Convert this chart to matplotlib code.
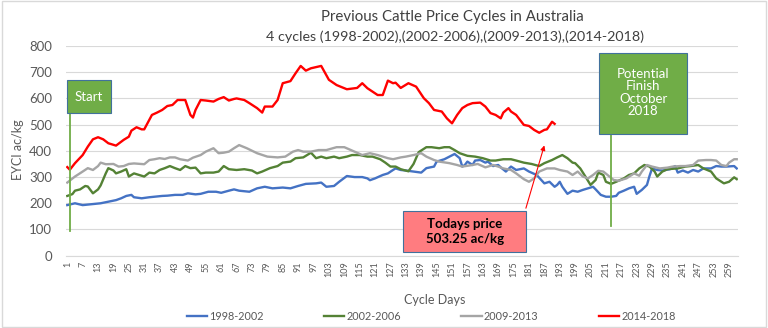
import numpy as np
import matplotlib.pyplot as plt
from matplotlib.patches import Rectangle

plt.rcParams['font.family'] = ['Lato', 'DejaVu Sans']

# values (cycle day -> EYCI ac/kg)
days_9802 = [1, 4, 7, 11, 14, 17, 20, 22, 24, 26, 27, 30, 33, 35, 38, 40, 43, 46, 48, 51, 53, 56, 59, 61, 64, 66, 68,
             72, 75, 78, 81, 85, 88, 91, 94, 98, 100, 102, 105, 107, 110, 113, 116, 118, 119, 121, 124, 126, 128, 129,
             131, 133, 136, 139, 141, 144, 145, 148, 150, 152, 154, 155, 156, 157, 159, 160, 162, 164, 165, 167, 169,
             170, 172, 174, 176, 179, 181, 184, 187, 189, 191, 192, 193, 194, 196, 198, 200, 202, 204, 206, 207, 209,
             211, 213, 215, 216, 218, 220, 222, 223, 225, 227, 228, 229, 231, 233, 236, 238, 239, 241, 243, 245, 247,
             249, 252, 254, 256, 258, 261, 262]
vals_9802 = [193, 200, 193, 197, 200, 206, 212, 219, 228, 232, 223, 219, 223, 225, 228, 229, 232, 232, 238, 234, 236,
             244, 244, 240, 248, 253, 248, 244, 257, 263, 257, 260, 257, 266, 274, 276, 279, 263, 266, 282, 304, 300,
             300, 295, 288, 295, 308, 314, 327, 333, 327, 325, 321, 317, 334, 340, 359, 368, 378, 388, 372, 340, 346,
             359, 346, 363, 365, 355, 359, 342, 346, 337, 321, 340, 327, 333, 321, 308, 276, 282, 263, 270, 282, 263,
             236, 248, 244, 251, 257, 263, 253, 232, 225, 225, 228, 240, 248, 257, 263, 236, 251, 270, 304, 333, 327,
             325, 330, 342, 317, 325, 317, 327, 321, 333, 333, 342, 340, 340, 342, 333]

days_0206 = [1, 3, 4, 6, 8, 9, 11, 13, 14, 16, 17, 19, 20, 22, 24, 25, 27, 29, 31, 33, 35, 37, 39, 41, 43, 45, 47, 49,
             51, 53, 55, 58, 60, 62, 64, 67, 70, 73, 75, 77, 80, 83, 85, 88, 90, 93, 96, 98, 100, 102, 105, 107, 110,
             112, 115, 118, 120, 123, 125, 127, 129, 131, 134, 136, 138, 141, 143, 146, 148, 150, 152, 154, 157, 160,
             163, 166, 168, 171, 174, 176, 179, 182, 185, 187, 190, 192, 194, 196, 198, 199, 201, 203, 205, 207, 208,
             210, 211, 213, 215, 218, 220, 222, 224, 226, 228, 230, 231, 233, 235, 239, 242, 244, 247, 249, 252, 254,
             257, 259, 261, 262]
vals_0206 = [228, 235, 248, 253, 266, 264, 238, 253, 268, 314, 334, 325, 314, 321, 330, 302, 314, 308, 302, 317, 314,
             327, 334, 342, 334, 327, 342, 334, 336, 314, 317, 317, 321, 342, 330, 327, 330, 325, 314, 321, 334, 342,
             355, 359, 372, 375, 393, 372, 378, 372, 378, 372, 378, 384, 384, 378, 378, 368, 355, 340, 340, 330, 322,
             350, 395, 414, 414, 410, 414, 414, 403, 391, 381, 378, 372, 363, 363, 368, 368, 363, 355, 350, 342, 353,
             365, 375, 384, 372, 355, 353, 333, 302, 270, 289, 317, 308, 282, 274, 282, 295, 308, 314, 333, 346, 340,
             321, 302, 321, 330, 333, 340, 342, 346, 333, 321, 295, 276, 282, 299, 292]

days_0913 = [1, 4, 7, 9, 11, 13, 14, 16, 19, 21, 23, 25, 27, 31, 33, 35, 37, 39, 41, 43, 45, 48, 50, 53, 55, 58, 60,
             62, 64, 66, 68, 71, 75, 79, 83, 86, 89, 91, 93, 96, 99, 102, 106, 109, 113, 116, 119, 122, 126, 128, 131,
             133, 136, 139, 141, 144, 146, 150, 153, 155, 159, 161, 164, 167, 169, 171, 174, 176, 179, 181, 183, 185,
             188, 191, 193, 196, 198, 200, 202, 204, 206, 208, 210, 212, 214, 216, 219, 222, 224, 225, 227, 229, 232,
             235, 237, 240, 242, 245, 247, 250, 252, 254, 256, 258, 259, 261, 262]
vals_0913 = [279, 302, 321, 334, 327, 342, 355, 349, 350, 340, 342, 350, 352, 349, 365, 368, 372, 369, 375, 375, 368,
             363, 374, 384, 397, 410, 391, 393, 397, 410, 422, 410, 391, 378, 375, 378, 397, 403, 397, 397, 403, 403,
             414, 414, 397, 384, 391, 384, 372, 368, 375, 378, 384, 391, 378, 365, 359, 353, 346, 340, 346, 350, 337,
             346, 340, 333, 327, 314, 292, 282, 295, 321, 333, 333, 327, 321, 308, 321, 302, 295, 308, 324, 321, 305,
             289, 286, 295, 314, 305, 321, 346, 340, 333, 336, 340, 342, 342, 346, 363, 365, 365, 363, 346, 342, 355,
             368, 368]

days_1418 = [1, 2, 4, 7, 9, 11, 13, 15, 17, 20, 23, 25, 26, 28, 30, 31, 34, 36, 38, 40, 42, 44, 47, 49, 50, 51, 53, 55,
             58, 60, 62, 64, 66, 67, 70, 72, 75, 77, 78, 81, 83, 85, 88, 90, 92, 94, 96, 100, 103, 106, 110, 114, 116,
             118, 122, 124, 126, 128, 129, 131, 134, 137, 140, 142, 144, 147, 149, 151, 153, 155, 157, 159, 162, 164,
             166, 168, 170, 171, 173, 174, 176, 179, 181, 183, 185, 187, 188, 190, 191]
vals_1418 = [338, 328, 353, 384, 416, 444, 452, 444, 429, 420, 442, 454, 477, 490, 482, 482, 537, 546, 556, 571, 575,
             594, 594, 537, 527, 556, 594, 592, 588, 598, 605, 592, 598, 600, 594, 582, 563, 546, 569, 569, 594, 658,
             666, 696, 724, 706, 715, 724, 671, 651, 635, 640, 658, 639, 613, 613, 668, 658, 660, 640, 658, 645, 601,
             582, 556, 550, 524, 505, 537, 563, 575, 582, 584, 569, 544, 537, 524, 546, 563, 550, 537, 499, 495, 480,
             469, 480, 482, 511, 503]

labels = ['1998-2002', '2002-2006', '2009-2013', '2014-2018']
colors = ['#4472C4', '#548235', '#A5A5A5', '#FF0000']
all_days = [days_9802, days_0206, days_0913, days_1418]
all_vals = [vals_9802, vals_0206, vals_0913, vals_1418]
n_days = 262

fig = plt.figure(figsize=(7.68, 3.28), dpi=100)
ax = fig.add_axes([66/768, 1-255.7/328, 672/768, 209.7/328])

for d, v, c, lab in zip(all_days, all_vals, colors, labels):
    ax.plot(d, v, color=c, lw=1.7, label=lab, solid_joinstyle='round')

ax.set_xlim(0.5, n_days + 0.5)
ax.set_ylim(0, 800)
ax.set_yticks(range(0, 801, 100))
ax.set_xticks(range(1, n_days, 6))
ax.set_xticklabels([str(i) for i in range(1, n_days, 6)], rotation=90, fontsize=6.5, color='#595959')
ax.tick_params(axis='x', length=0, pad=4)
ax.tick_params(axis='y', length=0, pad=10, labelsize=9.5, labelcolor='#595959')
ax.yaxis.grid(True, color='#D9D9D9', lw=0.8)
ax.set_axisbelow(True)
for s in ['top', 'right', 'left']:
    ax.spines[s].set_visible(False)
ax.spines['bottom'].set_color('#D9D9D9')

# annotations
ax.plot([2, 2], [94, 545], color='#70AD47', lw=1.3, zorder=5)
ax.add_patch(Rectangle((0.9, 545), 17.2, 126, facecolor='#70AD47', edgecolor='#41719C', lw=0.8, zorder=6, clip_on=False))
ax.text(9.5, 607, 'Start', color='white', fontsize=9.5, ha='center', va='center', zorder=7)

ax.plot([213, 213], [115, 464], color='#70AD47', lw=1.3, zorder=5)
ax.add_patch(Rectangle((208.3, 464), 34.3, 311, facecolor='#70AD47', edgecolor='#41719C', lw=0.8, zorder=6, clip_on=False))
ax.text(225.5, 623, 'Potential\nFinish\nOctober\n2018', color='white', fontsize=9.5, ha='center', va='center',
        linespacing=1.05, zorder=7)

ax.add_patch(Rectangle((131.9, 14), 48, 157, facecolor='#FF7C80', edgecolor='#41719C', lw=0.8, zorder=6, clip_on=False))
ax.text(155.9, 92, 'Todays price\n503.25 ac/kg', color='black', fontsize=9.5, fontweight='bold', ha='center',
        va='center', linespacing=1.3, zorder=7)
ax.annotate('', xy=(187.3, 431), xytext=(179.5, 171),
            arrowprops=dict(arrowstyle='-|>', color='#FF0000', lw=0.8, mutation_scale=7), zorder=7)

fig.text(452/768, 1-17/328, 'Previous Cattle Price Cycles in Australia', ha='center', va='center',
         fontsize=10.8, color='#404040')
fig.text(455/768, 1-37/328, '4 cycles (1998-2002),(2002-2006),(2009-2013),(2014-2018)', ha='center', va='center',
         fontsize=10.3, color='#404040')
fig.text(18/768, 1-150/328, 'EYCI ac/kg', rotation=90, ha='center', va='center', fontsize=9, color='#595959')
fig.text(435/768, 1-300/328, 'Cycle Days', ha='center', va='center', fontsize=9, color='#595959')

leg = fig.legend(loc='center', bbox_to_anchor=(431/768, 1-316/328), ncol=4, frameon=False, fontsize=7.8,
                 handlelength=1.9, handletextpad=0.15, columnspacing=5.6, labelcolor='#595959')

fig.patches.append(Rectangle((0.002, 0.003), 0.995, 0.994, transform=fig.transFigure, fill=False,
                             edgecolor='#D9D9D9', lw=1))

fig.savefig('out.png', dpi=100)
